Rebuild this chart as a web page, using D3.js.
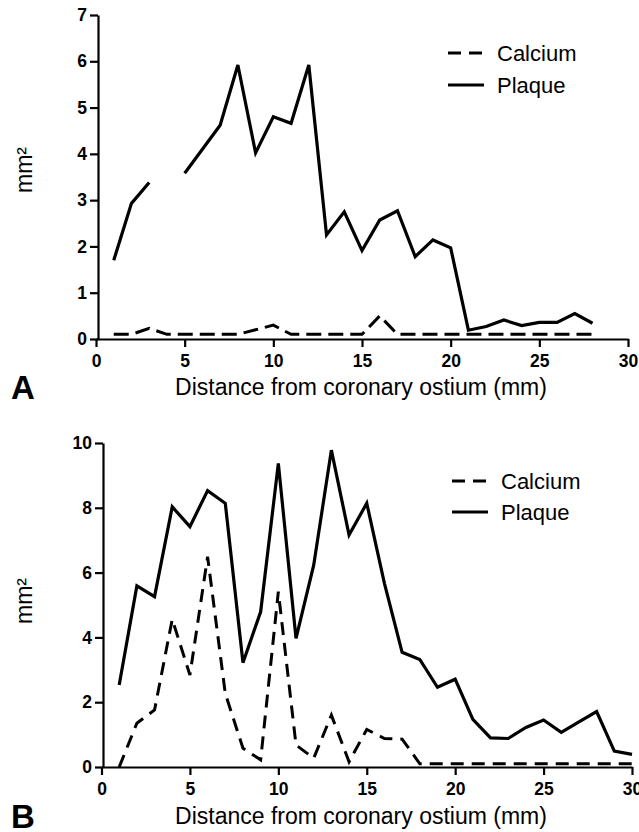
<!DOCTYPE html>
<html>
<head>
<meta charset="utf-8">
<script src="https://cdn.jsdelivr.net/npm/d3@7/dist/d3.min.js"></script>
<style>
  html, body { margin: 0; padding: 0; background: #fff; }
  svg { display: block; }
  text { font-family: "Liberation Sans", Arial, Helvetica, sans-serif; fill: #000; }
</style>
</head>
<body>
<svg id="chart" width="639" height="832"></svg>
<script>
// ---- Data ----
const distanceA = [1,2,3,4,5,6,7,8,9,10,11,12,13,14,15,16,17,18,19,20,21,22,23,24,25,26,27,28];
const plaqueA = [1.7,2.93,3.38,null,3.58,4.1,4.62,5.92,4.02,4.8,4.66,5.92,2.25,2.75,1.91,2.57,2.77,1.78,2.14,1.97,0.19,0.27,0.41,0.29,0.36,0.36,0.55,0.34];
const calciumA = [0.1,0.1,0.23,0.1,0.1,0.1,0.1,0.1,0.2,0.3,0.1,0.1,0.1,0.1,0.1,0.5,0.1,0.1,0.1,0.1,0.1,0.1,0.1,0.1,0.1,0.1,0.1,0.1];

const distanceB = [1,2,3,4,5,6,7,8,9,10,11,12,13,14,15,16,17,18,19,20,21,22,23,24,25,26,27,28,29,30];
const plaqueB = [2.53,5.59,5.26,8.03,7.42,8.53,8.14,3.22,4.79,9.37,3.97,6.23,9.78,7.16,8.14,5.67,3.54,3.32,2.46,2.71,1.47,0.9,0.88,1.22,1.45,1.07,1.39,1.71,0.49,0.39];
const calciumB = [0,1.35,1.76,4.56,2.84,6.49,2.27,0.58,0.22,5.41,0.68,0.27,1.6,0.16,1.16,0.88,0.86,0.1,0.1,0.1,0.1,0.1,0.1,0.1,0.1,0.1,0.1,0.1,0.1,0.1];

const xTicks = [0,5,10,15,20,25,30];
const yTicksA = [0,1,2,3,4,5,6,7];
const yTicksB = [0,2,4,6,8,10];
const legendLabels = ["Calcium", "Plaque"];
const xTitle = "Distance from coronary ostium (mm)";
const yTitle = "mm²";
const panelLabels = ["A", "B"];

const svg = d3.select("#chart");

function panel(cfg) {
  const x = d3.scaleLinear().domain([0, 30]).range([cfg.x0, cfg.x1]);
  const y = d3.scaleLinear().domain([0, cfg.ymax]).range([cfg.y0, cfg.y1]);
  const g = svg.append("g");
  const fmt = d3.format("d");

  // x axis
  const xa = g.append("g").attr("transform", `translate(0,${cfg.y0})`)
    .call(d3.axisBottom(x).tickValues(xTicks).tickFormat(fmt).tickSize(8).tickPadding(4).tickSizeOuter(0));
  // y axis
  const ya = g.append("g").attr("transform", `translate(${cfg.yAxisX},0)`)
    .call(d3.axisLeft(y).tickValues(cfg.yTicks).tickFormat(fmt).tickSize(8).tickPadding(3).tickSizeOuter(0));
  [xa, ya].forEach(a => {
    a.select(".domain").attr("stroke", "#000").attr("stroke-width", 2.2);
    a.selectAll(".tick line").attr("stroke", "#000").attr("stroke-width", 2.2);
    a.selectAll(".tick text").attr("font-size", 17.5).attr("font-weight", "bold")
      .style("font-family", '"Liberation Sans", Arial, sans-serif').attr("fill", "#000");
  });
  xa.selectAll(".tick text").attr("dy", "0.9em");

  // lines
  const mk = (vals) => d3.line()
    .defined((d, i) => vals[i] !== null)
    .x((d) => x(d))
    .y((d, i) => y(vals[i]));

  g.append("path").datum(cfg.dist)
    .attr("d", mk(cfg.calcium))
    .attr("fill", "none").attr("stroke", "#000").attr("stroke-width", 3)
    .attr("stroke-dasharray", cfg.dash).attr("stroke-linejoin", "miter");
  g.append("path").datum(cfg.dist)
    .attr("d", mk(cfg.plaque))
    .attr("fill", "none").attr("stroke", "#000").attr("stroke-width", 3.2)
    .attr("stroke-linejoin", "miter");

  // legend
  legendLabels.forEach((lab, i) => {
    const ly = cfg.legY + i * cfg.legGap;
    g.append("line").attr("x1", cfg.legX).attr("x2", cfg.legX + 36)
      .attr("y1", ly).attr("y2", ly)
      .attr("stroke", "#000").attr("stroke-width", 3)
      .attr("stroke-dasharray", i === 0 ? "13,8" : null);
    g.append("text").attr("x", cfg.legX + 49).attr("y", ly).attr("dy", "0.36em")
      .attr("font-size", 22).text(lab);
  });

  // titles
  g.append("text").attr("x", 361).attr("y", cfg.titleY).attr("dy", "0.36em")
    .attr("text-anchor", "middle").attr("font-size", 23).text(xTitle);
  g.append("text").attr("transform", `translate(${32},${cfg.yTitleY}) rotate(-90)`)
    .attr("text-anchor", "middle").attr("font-size", 23).text(yTitle);
  g.append("text").attr("x", 11).attr("y", cfg.titleY).attr("dy", "0.36em")
    .attr("font-size", 33).attr("font-weight", "bold").text(cfg.label);
}

panel({
  x0: 96, x1: 628, y0: 339, y1: 15, ymax: 7, yAxisX: 98,
  yTicks: yTicksA, dist: distanceA, plaque: plaqueA, calcium: calciumA,
  dash: "15,7", legX: 448, legY: 53, legGap: 32,
  titleY: 387, yTitleY: 170, label: panelLabels[0]
});
panel({
  x0: 101.5, x1: 632, y0: 767, y1: 443, ymax: 10, yAxisX: 103,
  yTicks: yTicksB, dist: distanceB, plaque: plaqueB, calcium: calciumB,
  dash: "13,8", legX: 452, legY: 481, legGap: 31,
  titleY: 816, yTitleY: 601, label: panelLabels[1]
});
</script>
</body>
</html>
